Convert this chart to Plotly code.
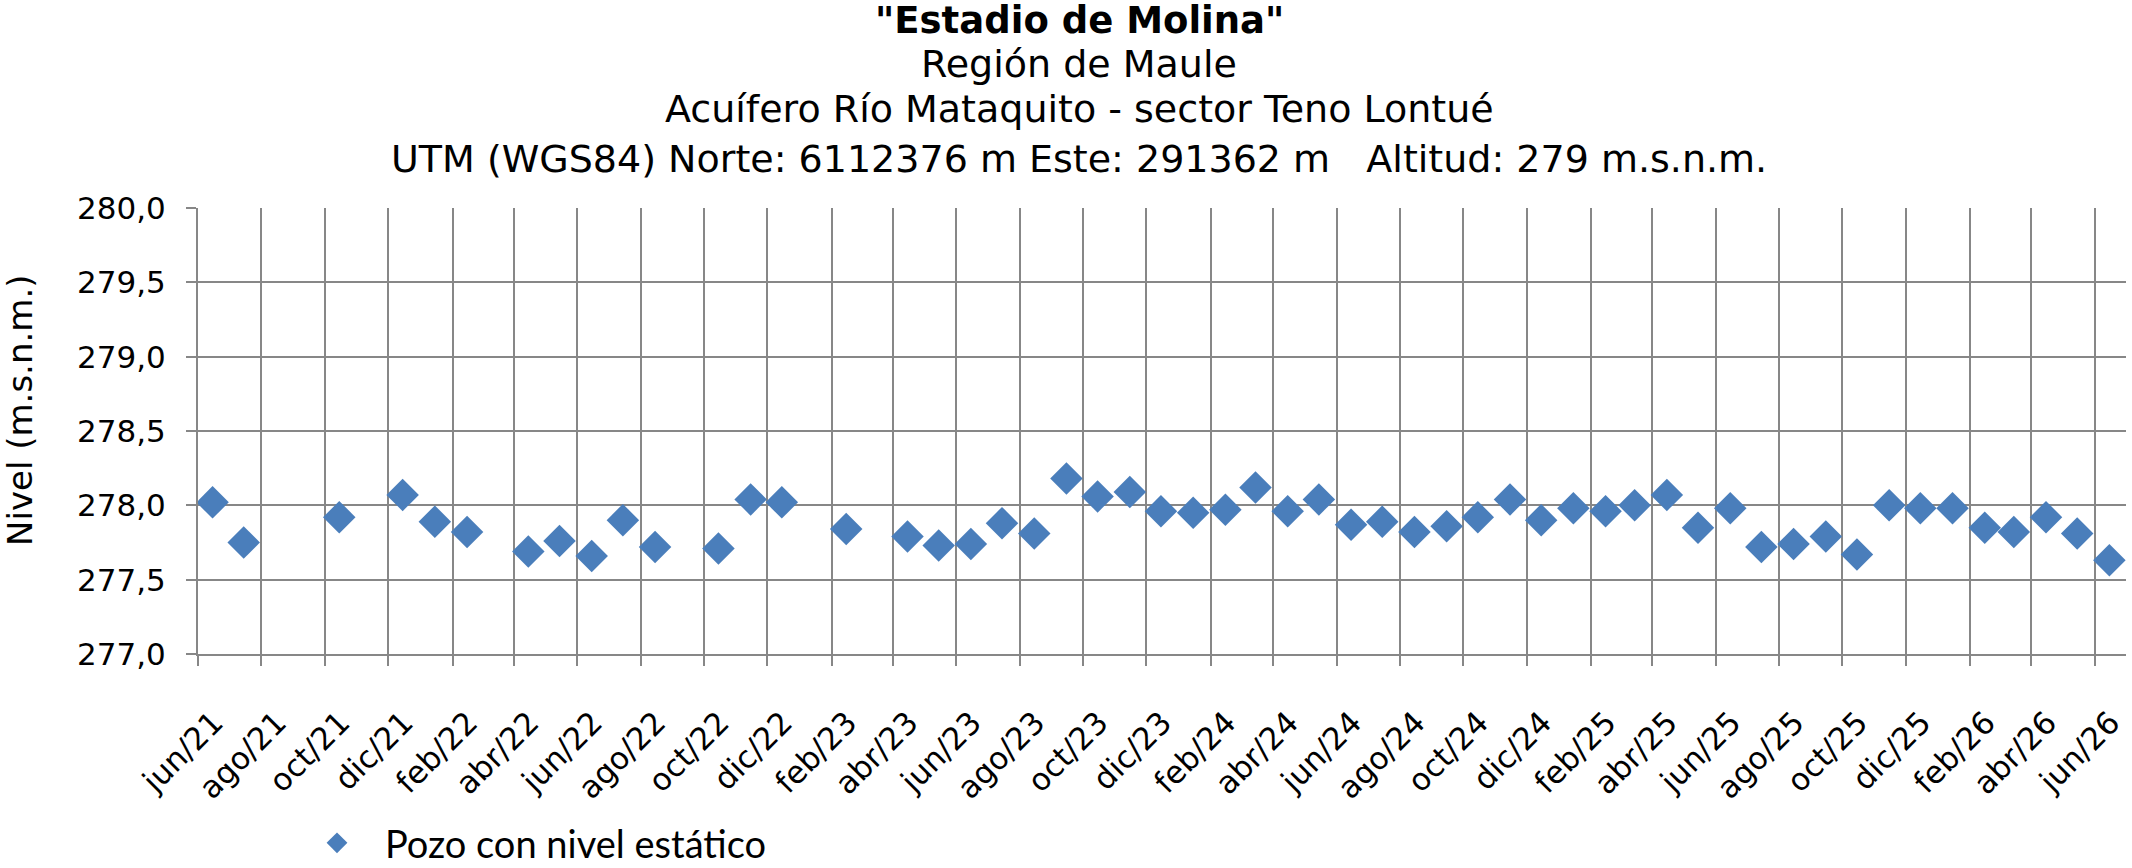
import pandas as pd
import plotly.graph_objects as go

# ---- data ----
fechas = [
    "2021-06-15", "2021-07-15", "2021-10-15", "2021-12-15",
    "2022-01-15", "2022-02-15", "2022-04-15", "2022-05-15", "2022-06-15",
    "2022-07-15", "2022-08-15", "2022-10-15", "2022-11-15", "2022-12-15",
    "2023-02-15", "2023-04-15", "2023-05-15", "2023-06-15", "2023-07-15",
    "2023-08-15", "2023-09-15", "2023-10-15", "2023-11-15", "2023-12-15",
    "2024-01-15", "2024-02-15", "2024-03-15", "2024-04-15", "2024-05-15",
    "2024-06-15", "2024-07-15", "2024-08-15", "2024-09-15", "2024-10-15",
    "2024-11-15", "2024-12-15", "2025-01-15", "2025-02-15", "2025-03-15",
    "2025-04-15", "2025-05-15", "2025-06-15", "2025-07-15", "2025-08-15",
    "2025-09-15", "2025-10-15", "2025-11-15", "2025-12-15", "2026-01-15",
    "2026-02-15", "2026-03-15", "2026-04-15", "2026-05-15", "2026-06-15",
]
nivel = [
    278.02, 277.75, 277.92, 278.07,
    277.89, 277.82, 277.69, 277.76, 277.66,
    277.90, 277.72, 277.71, 278.04, 278.02,
    277.84, 277.79, 277.73, 277.74, 277.88,
    277.81, 278.18, 278.06, 278.09, 277.96,
    277.95, 277.97, 278.12, 277.96, 278.04,
    277.87, 277.89, 277.82, 277.86, 277.92,
    278.04, 277.90, 277.98, 277.96, 278.00,
    278.07, 277.85, 277.98, 277.72, 277.74,
    277.79, 277.67, 278.00, 277.98, 277.98,
    277.85, 277.82, 277.92, 277.81, 277.63,
]
tick_labels = [
    "jun/21", "ago/21", "oct/21", "dic/21", "feb/22", "abr/22", "jun/22",
    "ago/22", "oct/22", "dic/22", "feb/23", "abr/23", "jun/23", "ago/23",
    "oct/23", "dic/23", "feb/24", "abr/24", "jun/24", "ago/24", "oct/24",
    "dic/24", "feb/25", "abr/25", "jun/25", "ago/25", "oct/25", "dic/25",
    "feb/26", "abr/26", "jun/26",
]
tick_dates = pd.date_range("2021-06-01", "2026-06-01", freq="2MS")

serie_nombre = "Pozo con nivel estático"
titulo = '"Estadio de Molina"'
subtitulos = [
    "Región de Maule",
    "Acuífero Río Mataquito - sector Teno Lontué",
    "UTM (WGS84) Norte: 6112376 m Este: 291362 m   Altitud: 279 m.s.n.m.",
]

FONT = "DejaVu Sans"
GRID = "#878787"

fig = go.Figure()
fig.add_trace(go.Scatter(
    x=pd.to_datetime(fechas), y=nivel, mode="markers", name=serie_nombre,
    marker=dict(symbol="diamond", size=25, color="#4A7EBB", line=dict(width=0)),
))

annotations = []
title_lines = [f"<b>{titulo}</b>"] + subtitulos
title_y = [1.4215, 1.3229, 1.222, 1.1099]
title_sizes = [37, 38, 38, 38]
for txt, yy, fs in zip(title_lines, title_y, title_sizes):
    annotations.append(dict(
        text=txt, xref="paper", yref="paper", x=0.457, y=yy,
        xanchor="center", yanchor="middle", showarrow=False,
        font=dict(family=FONT, size=fs, color="black"),
    ))
annotations.append(dict(
    text="Nivel (m.s.n.m.)", xref="paper", yref="paper", x=-0.0923, y=0.545,
    xanchor="center", yanchor="middle", textangle=-90, showarrow=False,
    font=dict(family=FONT, size=34, color="black"),
))

fig.update_layout(
    width=2132, height=868,
    margin=dict(l=198, r=6, t=208, b=214, autoexpand=False),
    paper_bgcolor="white", plot_bgcolor="white",
    separators=",.",
    showlegend=True,
    legend=dict(
        x=0.0472, y=-0.424, xanchor="left", yanchor="middle",
        itemwidth=86,
        font=dict(family="Lato", size=38, color="black"),
        bgcolor="rgba(0,0,0,0)",
    ),
    annotations=annotations,
    xaxis=dict(
        type="date", range=["2021-06-01", "2026-07-01"],
        tickmode="array", tickvals=tick_dates, ticktext=tick_labels,
        tickangle=-45, tickfont=dict(family=FONT, size=31, color="black"),
        ticklabelstandoff=26, ticklabelshift=16, automargin=False,
        showgrid=True, gridcolor=GRID, gridwidth=2,
        ticks="outside", ticklen=10, tickwidth=2, tickcolor=GRID,
        showline=True, linecolor=GRID, linewidth=2, zeroline=False,
    ),
    yaxis=dict(
        range=[277, 280], dtick=0.5, tick0=277, tickformat=".1f",
        tickfont=dict(family=FONT, size=31, color="black"),
        ticklabelstandoff=14, automargin=False,
        showgrid=True, gridcolor=GRID, gridwidth=2,
        ticks="outside", ticklen=10, tickwidth=2, tickcolor=GRID,
        showline=True, linecolor=GRID, linewidth=2, zeroline=False,
    ),
)

fig.write_html(
    "out.html",
    config={"displayModeBar": False},
    post_script="document.body.style.margin='0';",
)
